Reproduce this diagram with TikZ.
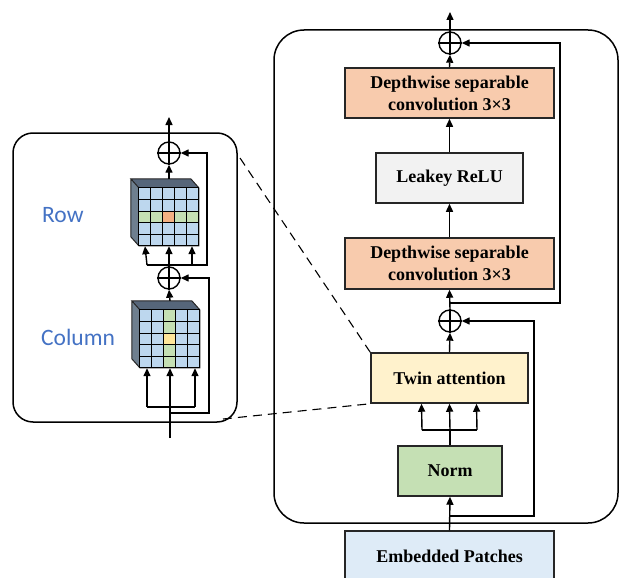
\documentclass[tikz,border=0pt]{standalone}
\usepackage{fontspec}
\setmainfont{Liberation Serif}
\newfontfamily\lblfont{Carlito}
\usetikzlibrary{arrows.meta,calc}
\definecolor{dscfill}{HTML}{F8CBAD}
\definecolor{relufill}{HTML}{F2F2F2}
\definecolor{twinfill}{HTML}{FFF2CC}
\definecolor{normfill}{HTML}{C5E0B4}
\definecolor{embfill}{HTML}{DEEBF7}
\definecolor{cellblue}{HTML}{BDD7EE}
\definecolor{cellgreen}{HTML}{C5E0B4}
\definecolor{cellorange}{HTML}{F4B183}
\definecolor{cellyellow}{HTML}{FFE699}
\definecolor{cubetop}{HTML}{56667A}
\definecolor{cubeside}{HTML}{6E7F8F}
\definecolor{lblblue}{HTML}{4472C4}
\definecolor{edge}{HTML}{262626}
\tikzset{
  blk/.style={draw=edge,line width=1.5pt,minimum width=#1,inner sep=0pt,
    font=\fontsize{18}{22}\selectfont\bfseries,align=center},
  arr/.style={line width=1.4pt,-{Triangle[length=8pt,width=7pt]}},
  ln/.style={line width=1.4pt},
  plus/.style={circle,draw,line width=1.4pt,minimum size=22pt,inner sep=0pt},
  panel/.style={line width=1.5pt},
  zoomline/.style={line width=1.1pt,dash pattern=on 9pt off 6pt},
  cubefront/.style={minimum width=60pt,minimum height=58pt,inner sep=0pt},
  lbl/.style={font=\lblfont\fontsize{23.5}{26}\selectfont,text=lblblue,anchor=base west,inner sep=0pt}
}
\newcommand{\drawcube}[2]{%
  \fill[cubetop] (0,0) -- (-8,-9) -- (52,-9) -- (60,0) -- cycle;
  \fill[cubeside] (0,0) -- (-8,-9) -- (-8,49) -- (0,58) -- cycle;
  \foreach \i in {0,...,4}{
    \foreach \j in {0,...,4}{
      \ifnum#1=1
        \ifnum\j=2 \def\cc{cellgreen}\else\def\cc{cellblue}\fi
      \else
        \ifnum\i=2 \def\cc{cellgreen}\else\def\cc{cellblue}\fi
      \fi
      \ifnum\i=2 \ifnum\j=2 \def\cc{#2}\fi\fi
      \fill[\cc] (12*\i,11.6*\j) rectangle (12*\i+12,11.6*\j+11.6);
    }
  }
  \foreach \k in {1,...,4}{
    \draw[line width=1pt] (12*\k,0) -- (12*\k,58);
    \draw[line width=1pt] (0,11.6*\k) -- (60,11.6*\k);
  }
  \draw[line width=1pt,edge] (0,0) -- (-8,-9) -- (52,-9) -- (60,0) -- (60,58) -- (0,58) -- (-8,49) -- (-8,-9);
  \draw[line width=1pt] (0,0) rectangle (60,58);
}
\begin{document}
\begin{tikzpicture}[x=1pt,y=-1pt]
\useasboundingbox (0,0) rectangle (619,578);

% ---------------- right block ----------------
\draw[panel,rounded corners=30pt] (274,30) rectangle (618,523);

\node[plus] (c1) at (450,43) {};
\draw[ln] (c1.north) -- (c1.south) (c1.west) -- (c1.east);
\node[blk=209pt,minimum height=50pt,fill=dscfill] (dsc1) at (449.5,93) {Depthwise separable\\convolution 3×3};
\node[blk=147pt,minimum height=50pt,fill=relufill] (relu) at (449.5,178) {Leakey ReLU};
\node[blk=209pt,minimum height=51pt,fill=dscfill] (dsc2) at (449.5,263.5) {Depthwise separable\\convolution 3×3};
\node[plus] (c2) at (450,321) {};
\draw[ln] (c2.north) -- (c2.south) (c2.west) -- (c2.east);
\node[blk=157pt,minimum height=50pt,fill=twinfill] (twin) at (449.5,378) {Twin attention};
\node[blk=104pt,minimum height=50pt,fill=normfill] (norm) at (450,471) {Norm};
\node[blk=209pt,minimum height=50pt,fill=embfill] (emb) at (449.5,556) {Embedded Patches};

\coordinate (rtop) at (450,12);
\coordinate (rj1) at (450,303);
\coordinate (rj2) at (450,516);
\coordinate (nb) at (450,430);

\draw[arr] (c1.north) -- (rtop);
\draw[arr] (dsc1.north) -- (c1.south);
\draw[arr] (relu.north) -- (dsc1.south);
\draw[arr] (dsc2.north) -- (relu.south);
\draw[arr] (c2.north) -- (dsc2.south);
\draw[arr] (rj1) -- ++(110,0) -- ++(0,-260) -- (c1.east);
\draw[arr] (twin.north) -- (c2.south);
\draw[arr] (rj2) -- ++(84,0) -- ++(0,-195) -- (c2.east);
\draw[ln] (norm.north) -- (nb);
\draw[ln] (nb) -- ++(-28,0) (nb) -- ++(27,0);
\draw[arr] (nb) -- (twin.south);
\draw[arr] ($(nb)+(-28,0)$) -- ($(twin.south)+(-28,0)$);
\draw[arr] ($(nb)+(27,0)$) -- ($(twin.south)+(27,0)$);
\draw[arr] (emb.north) -- (norm.south);

% ---------------- left panel ----------------
\draw[panel,rounded corners=20pt] (13,133) rectangle (237,422);

\node[plus] (c3) at (169,153) {};
\draw[ln] (c3.north) -- (c3.south) (c3.west) -- (c3.east);
\node[cubefront] (rowcube) at (169,217) {};
\begin{scope}[shift={(rowcube.north west)}]
  \drawcube{1}{cellorange}
\end{scope}
\node[plus] (c4) at (169,278) {};
\draw[ln] (c4.north) -- (c4.south) (c4.west) -- (c4.east);
\node[cubefront] (colcube) at (170,339) {};
\begin{scope}[shift={(colcube.north west)}]
  \drawcube{0}{cellyellow}
\end{scope}

\coordinate (ltop) at (169,117);
\coordinate (lj1) at (169,265);
\coordinate (lj2) at (170,413);
\coordinate (lb2) at (170,407);
\coordinate (lin) at (170,438);

\draw[arr] (c3.north) -- (ltop);
\draw[arr] ([yshift=9pt]rowcube.north) -- (c3.south);
\draw[ln] (c4.north) -- (lj1);
\draw[arr] (lj1) -- ++(38,0) -- ++(0,-112) -- (c3.east);
\draw[ln] (lj1) -- ++(-22,0);
\draw[arr] ($(lj1)+(-22,0)$) -- ($(rowcube.south)+(-24,0)$);
\draw[arr] (lj1) -- (rowcube.south);
\draw[arr] ($(lj1)+(23,0)$) -- ($(rowcube.south)+(23,0)$);
\draw[arr] ([yshift=9pt]colcube.north) -- (c4.south);
\draw[arr] (lj2) -- ++(39,0) -- ++(0,-135) -- (c4.east);
\draw[ln] ($(lb2)+(-23,0)$) -- ($(lb2)+(25,0)$);
\draw[arr] ($(lb2)+(-23,0)$) -- ($(colcube.south)+(-23,0)$);
\draw[arr] (lin) -- (colcube.south);
\draw[arr] ($(lb2)+(25,0)$) -- ($(colcube.south)+(25,0)$);

\node[lbl] (row) at (42,222) {Row};
\node[lbl] (col) at (41,345) {Column};

% ---------------- zoom lines ----------------
\coordinate (d1) at (240,158);
\coordinate (d2) at (223,419);
\draw[zoomline] (d1) -- (twin.north west);
\draw[zoomline] (d2) -- (twin.south west);
\end{tikzpicture}
\end{document}
